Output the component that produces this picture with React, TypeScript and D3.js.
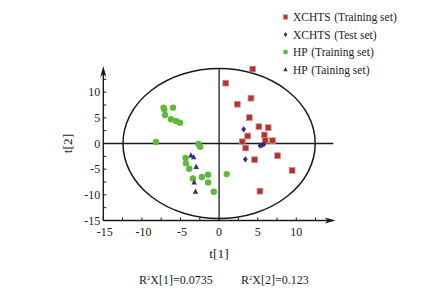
import React, { useEffect, useRef } from "react";
import * as d3 from "d3";

const xchtsTrainX = [4.35, 0.86, 4.13, 2.36, 3.91, 5.16, 6.36, 3.7, 5.85, 3.0, 5.98, 6.92, 3.44, 4.6, 7.57, 9.46, 5.29];
const xchtsTrainY = [14.5, 11.76, 8.83, 7.65, 5.04, 3.28, 3.09, 1.46, 1.66, 0.35, 0.62, 0.55, -0.88, -3.16, -2.38, -5.24, -9.28];

const xchtsTestX = [3.18, 5.29, 5.55, 5.8, 3.4];
const xchtsTestY = [2.77, -0.43, -0.3, -0.15, -3.09];

const hpTrainX = [-7.19, -7.1, -5.97, -7.0, -6.23, -5.59, -5.07, -8.17, -2.67, -2.45, -4.35, -4.3, -3.87, -3.4, -2.23, -1.42, -1.42, -0.69, 0.99];
const hpTrainY = [6.99, 6.68, 6.99, 5.57, 4.73, 4.39, 4.06, 0.29, -0.1, -0.62, -2.83, -3.87, -4.92, -6.8, -6.54, -6.09, -7.58, -9.4, -5.96];

const hpTestX = [-3.65, -3.3, -2.97, -3.23, -3.06];
const hpTestY = [-2.3, -2.64, -4.53, -7.58, -9.34];

const tickValues = [-15, -10, -5, 0, 5, 10];
const minorTicks = [-15, -12.5, -10, -7.5, -5, -2.5, 0, 2.5, 5, 7.5, 10, 12.5];
const legendLabels = ["XCHTS", "XCHTS", "HP", "HP"];
const legendSets = ["(Training set)", "(Test set)", "(Training set)", "(Taining set)"];
const ellipseR = [12.45, 14.6];
const r2Labels = ["0.0735", "0.123"];

const RED = "#c42a28";
const BLUE = "#3b2a7c";
const GREEN = "#5db93c";
const FONT = "'Liberation Serif', 'Times New Roman', serif";
const INK = "#1a1a1a";

export default function App() {
  const ref = useRef<SVGSVGElement>(null);
  useEffect(() => {
    document.body.style.margin = "0";
    const svg = d3.select(ref.current);
    svg.selectAll("*").remove();
    const x = d3.scaleLinear().domain([-15, 15]).range([103.3, 334.9]);
    const y = d3.scaleLinear().domain([-15, 15]).range([220.5, 66.5]);
    const g = svg.append("g");

    g.append("ellipse")
      .attr("cx", x(0)).attr("cy", y(0))
      .attr("rx", x(ellipseR[0]) - x(0)).attr("ry", y(0) - y(ellipseR[1]))
      .attr("fill", "none").attr("stroke", INK).attr("stroke-width", 1.5);

    g.append("line").attr("x1", x(-15)).attr("x2", x(14.8)).attr("y1", y(0)).attr("y2", y(0))
      .attr("stroke", INK).attr("stroke-width", 1.3);
    g.append("line").attr("x1", x(0)).attr("x2", x(0)).attr("y1", y(-15)).attr("y2", y(14.7))
      .attr("stroke", INK).attr("stroke-width", 1.3);

    const x0 = x(-15), y0 = y(-15);
    g.append("line").attr("x1", x0).attr("x2", x(14.2)).attr("y1", y0).attr("y2", y0)
      .attr("stroke", INK).attr("stroke-width", 1.4);
    g.append("line").attr("x1", x0).attr("x2", x0).attr("y1", y0).attr("y2", y(14.2))
      .attr("stroke", INK).attr("stroke-width", 1.4);
    const xt = x(15.1);
    g.append("path").attr("d", `M${xt},${y0} L${xt - 11},${y0 - 3} L${xt - 8},${y0} L${xt - 11},${y0 + 3} Z`).attr("fill", INK);
    const yt = y(15.1);
    g.append("path").attr("d", `M${x0},${yt} L${x0 - 3},${yt + 11} L${x0},${yt + 8} L${x0 + 3},${yt + 11} Z`).attr("fill", INK);

    minorTicks.forEach((v) => {
      g.append("line").attr("x1", x(v)).attr("x2", x(v)).attr("y1", y0).attr("y2", y0 - 3)
        .attr("stroke", INK).attr("stroke-width", 1);
      g.append("line").attr("x1", x0).attr("x2", x0 + 3).attr("y1", y(v)).attr("y2", y(v))
        .attr("stroke", INK).attr("stroke-width", 1);
    });

    tickValues.forEach((v) => {
      g.append("text").attr("x", x(v) + (v < 0 ? 1.5 : 0)).attr("y", y0 + 15).attr("text-anchor", "middle")
        .attr("font-family", FONT).attr("font-size", 12).attr("fill", "#222").text(String(v));
      g.append("text").attr("x", x0 - 3).attr("y", y(v) + 4).attr("text-anchor", "end")
        .attr("font-family", FONT).attr("font-size", 12).attr("fill", "#222").text(String(v));
    });

    g.append("text").attr("x", x(0)).attr("y", 258).attr("text-anchor", "middle")
      .attr("font-family", FONT).attr("font-size", 13.5).attr("fill", "#222").text("t[1]");
    g.append("text").attr("transform", `translate(72,${y(0)}) rotate(-90)`).attr("text-anchor", "middle")
      .attr("font-family", FONT).attr("font-size", 13.5).attr("fill", "#222").text("t[2]");

    const square = (sel: any, cx: number, cy: number, s: number) =>
      sel.append("rect").attr("x", cx - s / 2).attr("y", cy - s / 2).attr("width", s).attr("height", s)
        .attr("fill", RED).attr("stroke", "#b49a9a").attr("stroke-width", 0.8);
    const diamond = (sel: any, cx: number, cy: number, s: number) =>
      sel.append("path").attr("d", `M${cx},${cy - s / 2} L${cx + s / 2.6},${cy} L${cx},${cy + s / 2} L${cx - s / 2.6},${cy} Z`).attr("fill", BLUE);
    const circle = (sel: any, cx: number, cy: number, r: number) =>
      sel.append("circle").attr("cx", cx).attr("cy", cy).attr("r", r).attr("fill", GREEN);
    const tri = (sel: any, cx: number, cy: number, s: number) =>
      sel.append("path").attr("d", `M${cx},${cy - s * 0.55} L${cx + s / 2},${cy + s * 0.4} L${cx - s / 2},${cy + s * 0.4} Z`).attr("fill", BLUE);

    xchtsTrainX.forEach((v, i) => square(g, x(v), y(xchtsTrainY[i]), 5.8));
    hpTrainX.forEach((v, i) => circle(g, x(v), y(hpTrainY[i]), 3.2));
    xchtsTestX.forEach((v, i) => diamond(g, x(v), y(xchtsTestY[i]), 6.2));
    hpTestX.forEach((v, i) => tri(g, x(v), y(hpTestY[i]), 5.5));

    const ly = [17, 34.5, 52, 69.5];
    legendLabels.forEach((lab, i) => {
      const cy = ly[i];
      if (i === 0) square(g, 285.5, cy, 4.4);
      if (i === 1) diamond(g, 285.5, cy, 4.8);
      if (i === 2) circle(g, 285.5, cy, 2.4);
      if (i === 3) tri(g, 285.5, cy, 4.4);
      const t = g.append("text").attr("x", 293).attr("y", cy + 4).attr("font-family", FONT)
        .attr("font-size", 11.5).attr("fill", "#222");
      t.append("tspan").text(lab);
      t.append("tspan").attr("dx", 3.5).text(legendSets[i]);
    });

    [139, 241].forEach((px, i) => {
      const t = g.append("text").attr("x", px).attr("y", 284).attr("font-family", FONT)
        .attr("font-size", 12).attr("fill", "#222");
      t.append("tspan").text("R");
      t.append("tspan").attr("font-size", 6.5).attr("dy", -4.5).text("2");
      t.append("tspan").attr("dy", 4.5).text(`X[${i + 1}]=${r2Labels[i]}`);
    });
  }, []);
  return <svg ref={ref} width={443} height={297} style={{ display: "block", background: "#fff" }} />;
}
